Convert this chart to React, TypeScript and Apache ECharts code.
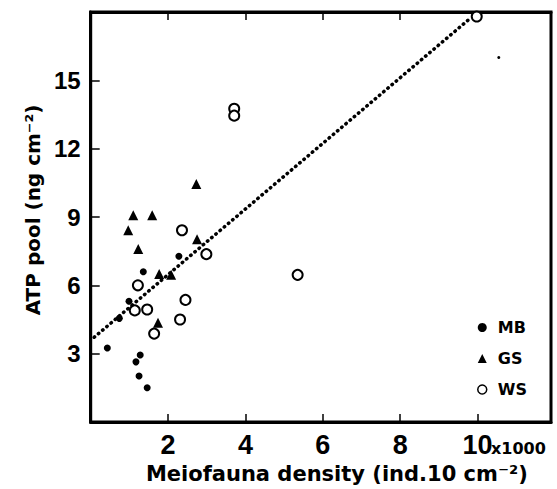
import React, { useEffect, useRef } from "react";
import * as echarts from "echarts";

const MB: number[][] = [
  [2.28, 7.28], [1.36, 6.6], [0.99, 5.3], [0.74, 4.55], [0.43, 3.25],
  [1.28, 2.94], [1.17, 2.64], [1.25, 2.02], [1.46, 1.5],
];
const GS: number[][] = [
  [2.73, 10.45], [1.1, 9.08], [1.59, 9.08], [0.97, 8.42], [1.23, 7.6],
  [2.75, 8.02], [1.77, 6.5], [2.08, 6.46], [1.74, 4.36],
];
const WS: number[][] = [
  [2.36, 8.42], [2.99, 7.37], [1.22, 6.0], [1.14, 4.9], [1.46, 4.94],
  [2.45, 5.36], [2.31, 4.5], [1.64, 3.88], [3.71, 13.75], [3.71, 13.45],
  [5.35, 6.46], [9.98, 17.8],
];
const SPECK: number[][] = [[10.55, 16.0]];
const FIT: number[][] = [[0.09, 3.72], [9.83, 17.75]];
const X_TICKS = [2, 4, 6, 8, 10];
const Y_TICKS = [3, 6, 9, 12, 15];

export default function App() {
  const ref = useRef<HTMLDivElement>(null);
  useEffect(() => {
    if (!ref.current) return;
    const chart = echarts.init(ref.current, null, { renderer: "svg" });
    const black = "#000000";
    chart.setOption({
      animation: false,
      backgroundColor: "#ffffff",
      grid: {
        left: 90.7, top: 12, right: 6, bottom: 64,
        show: true, borderColor: black, borderWidth: 3,
      },
      legend: {
        data: [
          { name: "MB", icon: "circle", itemStyle: { color: black } },
          { name: "GS", icon: "triangle", itemStyle: { color: black } },
          {
            name: "WS", icon: "circle",
            itemStyle: { color: "#ffffff", borderColor: black, borderWidth: 1.5 },
          },
        ],
        orient: "vertical",
        left: 472,
        top: 314,
        itemWidth: 9,
        itemHeight: 9,
        itemGap: 14,
        textStyle: {
          color: black, fontSize: 16, fontWeight: "bold",
          fontFamily: "DejaVu Sans", lineHeight: 17, padding: [0, 0, 0, 6],
        },
      },
      xAxis: [
        {
          type: "value", min: 0, max: 11.9, interval: 2,
          axisLine: { lineStyle: { color: black, width: 3 } },
          axisTick: {
            inside: true, length: 8, lineStyle: { color: black, width: 1.5 },
            customValues: X_TICKS,
          },
          axisLabel: {
            customValues: X_TICKS,
            color: black, fontSize: 27, fontWeight: "bold",
            fontFamily: "Liberation Sans", margin: 9,
          },
          splitLine: { show: false },
          name: "Meiofauna density (ind.10 cm⁻²)",
          nameLocation: "middle",
          nameGap: 41,
          nameTextStyle: {
            color: black, fontSize: 21, fontWeight: "bold",
            fontFamily: "DejaVu Sans", padding: [0, 0, 0, 32],
          },
        },
        {
          type: "value", position: "top", min: 0, max: 11.9, interval: 2,
          axisLine: { show: true, lineStyle: { color: black, width: 3 } },
          axisTick: {
            inside: true, length: 8, lineStyle: { color: black, width: 1.5 },
            customValues: X_TICKS,
          },
          axisLabel: { show: false },
          splitLine: { show: false },
        },
      ],
      yAxis: {
        type: "value", min: 0, max: 18, interval: 3,
        axisLine: { show: true, lineStyle: { color: black, width: 3 } },
        axisTick: {
          inside: true, length: 9, lineStyle: { color: black, width: 1.5 },
          customValues: Y_TICKS,
        },
        axisLabel: {
          customValues: Y_TICKS,
          color: black, fontSize: 24, fontWeight: "bold",
          fontFamily: "Liberation Sans", margin: 10,
        },
        splitLine: { show: false },
        name: "ATP pool (ng cm⁻²)",
        nameLocation: "middle",
        nameGap: 42,
        nameTextStyle: {
          color: black, fontSize: 20, fontWeight: "bold",
          fontFamily: "DejaVu Sans", padding: [0, 0, 0, 14],
        },
      },
      graphic: [
        {
          type: "text", left: 491, top: 440,
          style: {
            text: "x1000", fill: black, fontSize: 16, fontWeight: "bold",
            fontFamily: "DejaVu Sans",
          },
        },
      ],
      series: [
        {
          name: "fit", type: "line", data: FIT, showSymbol: false, silent: true,
          lineStyle: { color: black, width: 3.5, type: [0.5, 5], cap: "round" },
        },
        {
          name: "MB", type: "scatter", data: MB, symbol: "circle", symbolSize: 7,
          itemStyle: { color: black, opacity: 1 },
        },
        {
          name: "GS", type: "scatter", data: GS, symbol: "triangle", symbolSize: 10,
          itemStyle: { color: black, opacity: 1 },
        },
        {
          name: "WS", type: "scatter", data: WS, symbol: "circle", symbolSize: 10,
          itemStyle: { color: "#ffffff", borderColor: black, borderWidth: 2, opacity: 1 },
        },
        {
          name: "speck", type: "scatter", data: SPECK, symbol: "circle", symbolSize: 3,
          itemStyle: { color: black, opacity: 1 },
        },
      ],
    });
    return () => chart.dispose();
  }, []);
  return (
    <div
      ref={ref}
      style={{ position: "absolute", left: 0, top: 0, width: 557, height: 489 }}
    />
  );
}
